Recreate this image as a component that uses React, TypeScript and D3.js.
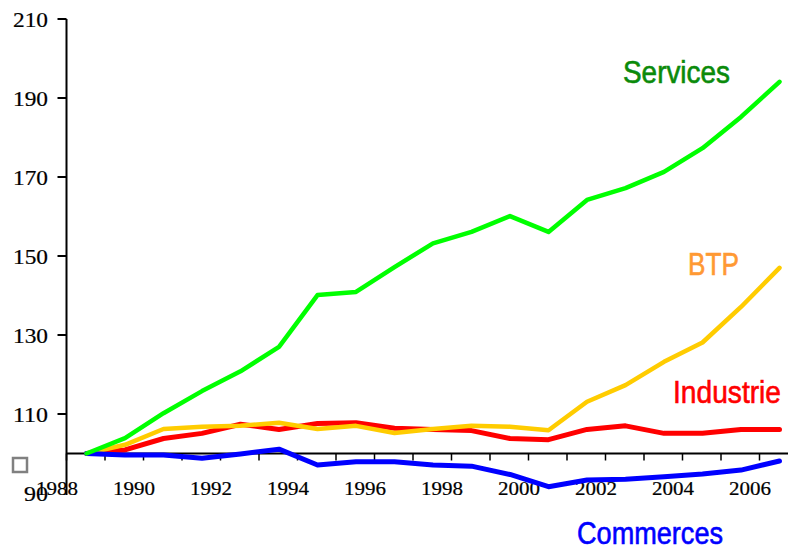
import React from "react";
import * as d3 from "d3";

const years = [1989, 1990, 1991, 1992, 1993, 1994, 1995, 1996, 1997, 1998, 1999, 2000, 2001, 2002, 2003, 2004, 2005, 2006, 2007];
const services = [100, 103.9, 110.2, 115.8, 120.8, 127.0, 140.1, 140.9, 147.2, 153.2, 156.1, 160.1, 156.1, 164.2, 167.2, 171.3, 177.3, 185.2, 194.1];
const btp = [100, 102.2, 106.2, 106.8, 107.0, 107.8, 106.2, 107.0, 105.2, 106.2, 107.0, 106.8, 105.9, 113.1, 117.3, 123.2, 128.1, 137.1, 147.0];
const industrie = [100, 100.9, 103.8, 105.1, 107.4, 106.1, 107.6, 107.8, 106.4, 106.1, 105.8, 103.8, 103.5, 106.1, 107.0, 105.1, 105.1, 106.1, 106.1];
const commerces = [100, 99.6, 99.6, 98.8, 99.9, 101.1, 97.1, 97.9, 97.9, 97.1, 96.8, 94.7, 91.6, 93.3, 93.5, 94.1, 94.8, 95.8, 98.1];
const yTicks = [90, 110, 130, 150, 170, 190, 210];
const xLabels = [1988, 1990, 1992, 1994, 1996, 1998, 2000, 2002, 2004, 2006];
const tickYears = [1988, 1989, 1990, 1991, 1992, 1993, 1994, 1995, 1996, 1997, 1998, 1999, 2000, 2001, 2002, 2003, 2004, 2005, 2006];

const seriesList = [
  { name: "Industrie", values: industrie, color: "#FF0000", width: 5 },
  { name: "BTP", values: btp, color: "#FFCC00", width: 4.5 },
  { name: "Commerces", values: commerces, color: "#0000FF", width: 5 },
  { name: "Services", values: services, color: "#00FF00", width: 4.5 },
];

const labels = [
  { text: "Services", x: 623, y: 83, len: 107, color: "#0A8A0A" },
  { text: "BTP", x: 688, y: 275, len: 51, color: "#FF9933" },
  { text: "Industrie", x: 673, y: 403, len: 108, color: "#FF0000" },
  { text: "Commerces", x: 577, y: 544, len: 146, color: "#0000FF" },
];

export default function App() {
  const W = 791;
  const H = 549;
  const x = d3.scaleLinear().domain([1989, 2007]).range([86.5, 779.5]);
  const y = d3.scaleLinear().domain([90, 210]).range([493, 19]);
  const axisX = x(1988) + 18.5;
  const line = d3
    .line<number>()
    .x((_, i) => x(years[i]))
    .y((d) => y(d));

  return (
    <div style={{ position: "absolute", left: 0, top: 0 }}>
      <svg width={W} height={H} style={{ display: "block", background: "#fff" }}>
        <rect x={0} y={0} width={W} height={H} fill="#fff" />
        {/* y axis */}
        <line x1={axisX} x2={axisX} y1={y(210)} y2={y(90) + 2} stroke="#000" strokeWidth={2} />
        {yTicks.map((t) => (
          <g key={t}>
            {t > 90 && <line x1={axisX - 9} x2={axisX} y1={y(t)} y2={y(t)} stroke="#000" strokeWidth={2} />}
            <text
              x={48}
              y={y(t) + 8}
              textAnchor="end"
              fontFamily="'Liberation Serif', 'Times New Roman', serif"
              fontSize={20.5}
              textLength={String(t).length === 3 ? 35 : 24}
              lengthAdjust="spacingAndGlyphs"
              fill="#000"
              stroke="#000"
              strokeWidth={0.2}
            >
              {t}
            </text>
          </g>
        ))}
        {/* x axis */}
        <line x1={axisX} x2={788} y1={y(100)} y2={y(100)} stroke="#000" strokeWidth={2} />
        {tickYears.map((t) => (
          <line key={t} x1={x(t) + 18.5} x2={x(t) + 18.5} y1={y(100)} y2={y(100) + 7} stroke="#000" strokeWidth={1.5} />
        ))}
        {xLabels.map((t) => (
          <text
            key={t}
            x={x(t) + 9}
            y={495}
            textAnchor="middle"
            fontFamily="'Liberation Serif', 'Times New Roman', serif"
            fontSize={18}
            textLength={42}
            lengthAdjust="spacingAndGlyphs"
            fill="#000"
            stroke="#000"
            strokeWidth={0.2}
          >
            {t}
          </text>
        ))}
        {/* series */}
        {seriesList.map((s) => (
          <path
            key={s.name}
            d={line(s.values) || ""}
            fill="none"
            stroke={s.color}
            strokeWidth={s.width}
            strokeLinejoin="round"
            strokeLinecap="round"
          />
        ))}
        {/* labels */}
        {labels.map((l) => (
          <text
            key={l.text}
            x={l.x}
            y={l.y}
            fontFamily="'Liberation Sans', Arial, sans-serif"
            fontSize={31}
            textLength={l.len}
            lengthAdjust="spacingAndGlyphs"
            fill={l.color}
            stroke={l.color}
            strokeWidth={0.6}
          >
            {l.text}
          </text>
        ))}
        {/* small legend square */}
        <rect x={13} y={458} width={14} height={14} fill="none" stroke="#808080" strokeWidth={2.5} />
      </svg>
    </div>
  );
}
